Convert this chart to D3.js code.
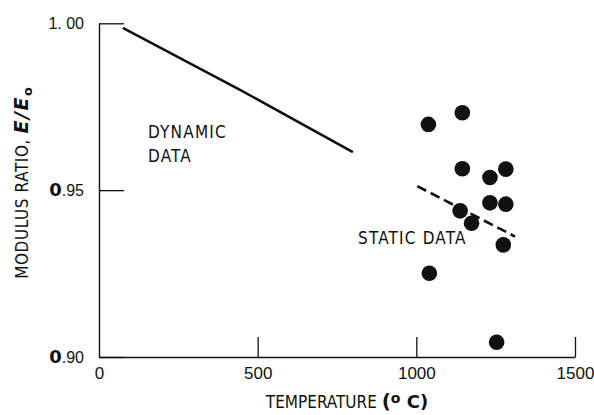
<!DOCTYPE html>
<html>
<head>
<meta charset="utf-8">
<script src="https://cdn.jsdelivr.net/npm/d3@7"></script>
<style>
  body { margin: 0; background: #fff; }
  svg { font-family: "Liberation Sans Narrow", "DejaVu Sans Condensed", sans-serif; }
</style>
</head>
<body>
<svg id="chart" width="594" height="415"></svg>
<script>
// dynamic data curve (temperature, E/E0)
const dynTemp = [75, 440, 800];
const dynRatio = [0.9986, 0.9803, 0.9614];
// static data fit (dashed)
const fitTemp = [1003, 1311];
const fitRatio = [0.9512, 0.9361];
// static data points
const ptTemp = [1038, 1145, 1145, 1232, 1282, 1232, 1282, 1138, 1174, 1274, 1041, 1253];
const ptRatio = [0.9697, 0.9732, 0.9564, 0.9538, 0.9563, 0.9462, 0.9458, 0.9438, 0.9401, 0.9336, 0.9251, 0.9044];
const xTicks = [0, 500, 1000, 1500];
const yTicks = [0.90, 0.95, 1.00];

const svg = d3.select('#chart');
const x = d3.scaleLinear().domain([0, 1500]).range([99, 575]);
const y = d3.scaleLinear().domain([0.90, 1.00]).range([357, 23.3]);
const ink = '#111';

// x axis with inward ticks
const xAxis = d3.axisBottom(x).tickValues(xTicks).tickSizeInner(-20).tickSizeOuter(0)
  .tickPadding(10).tickFormat(d3.format('d'));
const xg = svg.append('g').attr('transform', `translate(0, ${y(0.90)})`).call(xAxis);
xg.select('.domain').attr('stroke', ink).attr('stroke-width', 1.4);
xg.selectAll('.tick line').attr('stroke', ink).attr('stroke-width', 1.3);
xg.selectAll('.tick').filter(d => d === 0).select('line').remove();
xg.selectAll('.tick text').attr('font-size', 17).attr('fill', ink).attr('font-family', null);

// y axis with inward ticks
const yAxis = d3.axisLeft(y).tickValues(yTicks).tickSizeInner(-25).tickSizeOuter(0).tickPadding(15);
const yg = svg.append('g').attr('transform', `translate(${x(0)}, 0)`).call(yAxis);
yg.select('.domain').attr('stroke', ink).attr('stroke-width', 1.4);
yg.selectAll('.tick line').attr('stroke', ink).attr('stroke-width', 1.3);
yg.selectAll('.tick text').attr('fill', ink).attr('font-family', null).attr('font-size', 16)
  .each(function(d) {
    const t = d3.select(this).text('');
    if (d < 1) {
      t.append('tspan').attr('font-weight', 'bold').attr('font-family', 'DejaVu Sans').attr('font-size', 18).text('0');
      t.append('tspan').text('.' + d3.format('.2f')(d).split('.')[1]);
    } else {
      t.text(d3.format('.2f')(d).replace('.', '. '));
    }
  });

// axis titles
const xt = svg.append('text').attr('x', 347).attr('y', 408).attr('text-anchor', 'middle')
  .attr('fill', ink).attr('font-size', 17);
xt.append('tspan').text('TEMPERATURE ');
xt.append('tspan').attr('font-weight', 'bold').attr('font-family', 'DejaVu Sans').attr('font-size', 20).text('(');
xt.append('tspan').attr('font-weight', 'bold').attr('font-family', 'DejaVu Sans').attr('font-size', 14).attr('dy', -5).text('o');
xt.append('tspan').attr('font-weight', 'bold').attr('font-family', 'DejaVu Sans').attr('font-size', 18).attr('dy', 5).text(' C)');

const yt = svg.append('text').attr('transform', 'translate(28, 183) rotate(-90)')
  .attr('text-anchor', 'middle').attr('fill', ink).attr('font-size', 17);
yt.append('tspan').attr('letter-spacing', 0.6).text('MODULUS RATIO,   ');
yt.append('tspan').attr('font-weight', 'bold').attr('font-style', 'italic').attr('font-family', 'DejaVu Sans')
  .attr('font-size', 19).attr('letter-spacing', 1.5).text('E/E');
yt.append('tspan').attr('font-weight', 'bold').attr('font-family', 'DejaVu Sans')
  .attr('font-size', 13).attr('dy', 4).text('o');

// dynamic curve
const dynData = dynTemp.map((t, i) => [t, dynRatio[i]]);
const line = d3.line().x(d => x(d[0])).y(d => y(d[1]));
svg.append('path').datum(dynData).attr('d', line)
  .attr('fill', 'none').attr('stroke', ink).attr('stroke-width', 2.6);

// static fit
const fitData = fitTemp.map((t, i) => [t, fitRatio[i]]);
svg.append('path').datum(fitData).attr('d', line)
  .attr('fill', 'none').attr('stroke', ink).attr('stroke-width', 2.6).attr('stroke-dasharray', '10,5');

// static points
svg.selectAll('circle.pt').data(ptTemp.map((t, i) => [t, ptRatio[i]])).enter().append('circle')
  .attr('class', 'pt').attr('cx', d => x(d[0])).attr('cy', d => y(d[1])).attr('r', 7.8).attr('fill', ink);

// annotations
const lab = svg.append('g').attr('fill', ink).attr('font-size', 17).attr('letter-spacing', 1.2);
lab.append('text').attr('x', 148).attr('y', 138).text('DYNAMIC');
lab.append('text').attr('x', 148).attr('y', 162).text('DATA');
lab.append('text').attr('x', 358).attr('y', 244).text('STATIC DATA');
</script>
</body>
</html>
